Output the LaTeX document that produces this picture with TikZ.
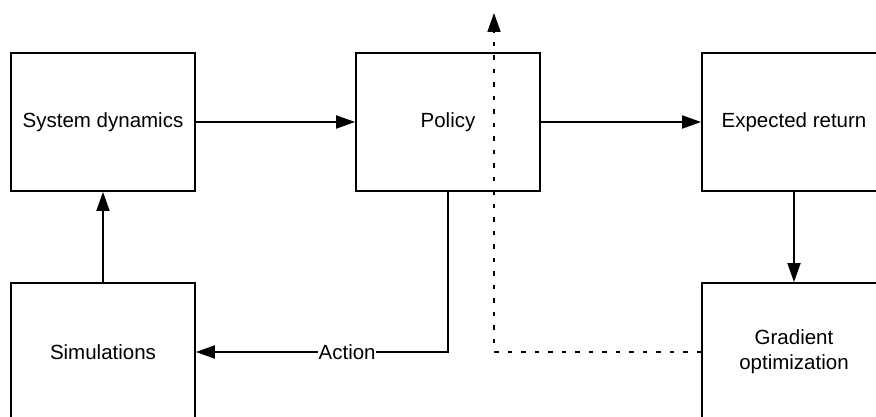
\documentclass[tikz,border=0pt]{standalone}
\usepackage{fontspec}
\setmainfont{Liberation Sans}
\usetikzlibrary{arrows.meta}
\begin{document}
\begin{tikzpicture}[x=1pt,y=-1pt,
  blockbox/.style={draw, line width=1.8pt, minimum width=184pt, minimum height=138pt, inner sep=0pt, align=center, font=\fontsize{20.5}{25}\selectfont},
  flow/.style={line width=1.8pt, -{Triangle[length=19pt,width=13pt]}},
  dotflow/.style={line width=1.8pt, dash pattern=on 4.5pt off 9pt, -{Triangle[length=19pt,width=13pt]}}
]
\useasboundingbox (0,0) rectangle (876,417);
\clip (0,0) rectangle (876,417);
\node[blockbox] (sd) at (103,122) {System dynamics};
\node[blockbox] (pol) at (448,122) {Policy};
\node[blockbox] (er) at (794,122) {Expected return};
\node[blockbox] (sim) at (103,352) {Simulations};
\node[blockbox] (grad) at (794,352) {Gradient\\optimization};
\coordinate (top) at (494,13);
\draw[flow] (sd.east) -- (pol.west);
\draw[flow] (pol.east) -- (er.west);
\draw[flow] (er.south) -- (grad.north);
\draw[flow] (sim.north) -- (sd.south);
\draw[flow] (pol.south) |- (sim.east)
  node[pos=0.70, fill=white, inner sep=0.5pt, font=\fontsize{20.5}{25}\selectfont] (act) {Action};
\draw[dotflow] (grad.west) -| (top);
\end{tikzpicture}
\end{document}
